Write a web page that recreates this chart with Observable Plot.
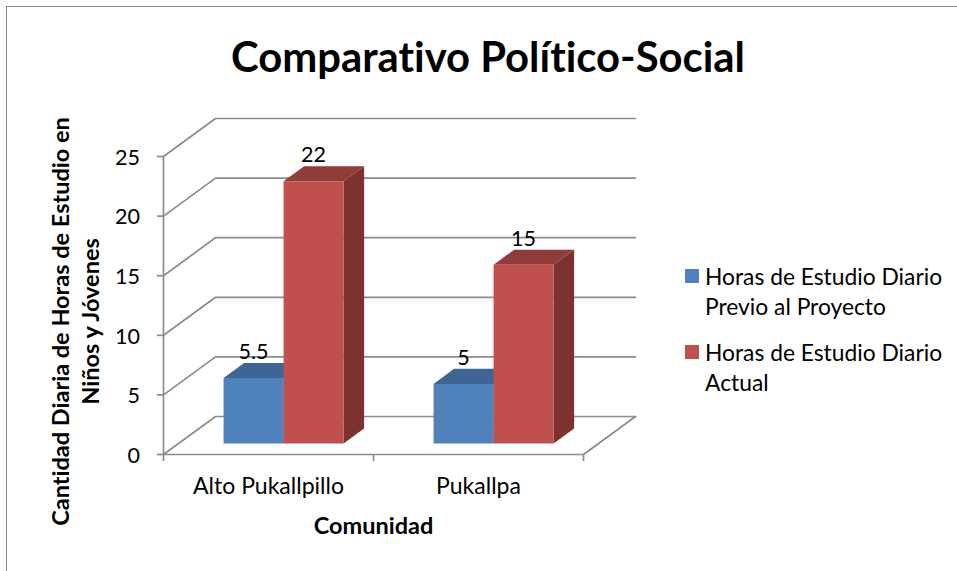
<!DOCTYPE html>
<html>
<head>
<meta charset="utf-8">
<script src="https://cdn.jsdelivr.net/npm/d3@7"></script>
<script src="https://cdn.jsdelivr.net/npm/@observablehq/plot@0.6"></script>
<style>
  html, body { margin: 0; padding: 0; background: #fff; overflow: hidden; width: 957px; height: 571px; }
  body { position: relative; font-family: Lato, sans-serif; color: #000; font-variant-ligatures: none; }
  svg, svg text { font-variant-ligatures: none; }
  #frame { position: absolute; left: 6px; top: 6px; width: 1200px; height: 900px; border: 1px solid #868686; box-sizing: border-box; }
  #chart { position: absolute; left: 0; top: 0; }
  #title { position: absolute; left: 0; width: 976px; top: 30px; text-align: center; font-weight: 700; font-size: 41.8px; line-height: 52px; white-space: nowrap; }
  .lg { position: absolute; left: 705px; font-size: 22.8px; line-height: 30px; white-space: nowrap; }
  .sw { position: absolute; left: 685px; width: 14px; height: 14px; }
</style>
</head>
<body>
<div id="frame"></div>
<div id="chart"></div>
<div id="title"></div>
<script>
const titleText = "Comparativo Político-Social";
const yLabelLine1 = "Cantidad Diaria de Horas de Estudio en";
const yLabelLine2 = "Niños y Jóvenes";
const xLabel = "Comunidad";
const categories = ["Alto Pukallpillo", "Pukallpa"];
const previo = [5.5, 5];
const actual = [22, 15];
const previoLabels = ["5.5", "5"];
const actualLabels = ["22", "15"];
const seriesNames = [["Horas de Estudio Diario", "Previo al Proyecto"], ["Horas de Estudio Diario", "Actual"]];
const yTicks = [0, 5, 10, 15, 20, 25];
const xTicks = [0, 1, 2];

// Oblique projection of the 3D box, in scale units per full depth of the plot floor
const DX = 52 / 210, DY = 38 / 11.92;
const proj = (x, v, d) => ({x: x + d * DX, y: v + d * DY});
const D0 = 0.29, D1 = 0.685, BAR = 2 / 7, GAP = 1.5 / 7;

const colors = [
  {front: "#4f81bd", top: "#3e6593", side: "#2f4d70"},
  {front: "#c0504d", top: "#8f3c3a", side: "#7d3230"}
];
const gridColor = "#8c8c8c", gridWidth = 1.7;

const face = (pts, fill) => Plot.line(pts.map(p => proj(...p)), {x: "x", y: "y", fill, stroke: "none", curve: "linear"});

function barMarks(values, s) {
  return values.flatMap((v, i) => {
    const x0 = i + GAP + s * BAR, x1 = x0 + BAR, c = colors[s];
    return [
      face([[x1, 0, D0], [x1, 0, D1], [x1, v, D1], [x1, v, D0]], c.side),
      face([[x0, v, D0], [x1, v, D0], [x1, v, D1], [x0, v, D1]], c.top),
      face([[x0, 0, D0], [x1, 0, D0], [x1, v, D0], [x0, v, D0]], c.front)
    ];
  });
}

const grid = yTicks.map(t => Plot.line([proj(0, t, 0), proj(0, t, 1), proj(2, t, 1)],
  {x: "x", y: "y", stroke: gridColor, strokeWidth: gridWidth}));

const labelData = (values, labels, s) => values.map((v, i) => {
  const p = proj(i + GAP + (s + 0.5) * BAR, v, D0);
  return {x: p.x, y: p.y, t: labels[i]};
});

const chart = Plot.plot({
  width: 957,
  height: 571,
  marginLeft: 163,
  marginRight: 374,
  marginTop: 156,
  marginBottom: 117,
  style: {background: "transparent", fontFamily: "Lato, sans-serif"},
  x: {domain: [0, 2], axis: null},
  y: {domain: [0, 25], axis: null},
  marks: [
    ...grid,
    Plot.line([proj(2, 0, 0), proj(2, 0, 1)], {x: "x", y: "y", stroke: gridColor, strokeWidth: gridWidth}),
    Plot.ruleX([0], {y1: 0, y2: 25, stroke: gridColor, strokeWidth: gridWidth}),
    Plot.ruleY([0], {x1: 0, x2: 2, stroke: gridColor, strokeWidth: gridWidth}),
    Plot.axisY({ticks: yTicks, tickSize: 6, tickFormat: () => "", stroke: gridColor, strokeWidth: gridWidth, label: null}),
    Plot.text(yTicks, {x: () => 0, y: d => d, text: d => String(d), textAnchor: "end", dx: -23.5, dy: 1.5, fontSize: 21.5, fill: "#000"}),
    Plot.axisX({ticks: xTicks, tickSize: 7, tickFormat: () => "", stroke: gridColor, strokeWidth: gridWidth, label: null}),
    ...barMarks(previo, 0),
    ...barMarks(actual, 1),
    Plot.text([...labelData(previo, previoLabels, 0), ...labelData(actual, actualLabels, 1)],
      {x: "x", y: "y", text: "t", dy: -26, fontSize: 21.5, fill: "#000"}),
    Plot.text(categories, {x: (d, i) => i + 0.5, y: () => 0, text: d => d, dy: 32, fontSize: 23, fill: "#000"}),
    Plot.text([xLabel], {x: () => 1, y: () => 0, text: d => d, dy: 72, fontSize: 23.5, fontWeight: 700, fill: "#000"}),
    Plot.text([yLabelLine1], {x: () => 0, y: () => 11.16, text: d => d, dx: -102, rotate: -90, fontSize: 23.5, fontWeight: 700, fill: "#000"}),
    Plot.text([yLabelLine2], {x: () => 0, y: () => 11.16, text: d => d, dx: -72, rotate: -90, fontSize: 23.5, fontWeight: 700, fill: "#000"})
  ]
});
document.getElementById("chart").append(chart);
document.getElementById("title").textContent = titleText;

// legend
const lgTop = [261, 337];
seriesNames.forEach((lines, s) => {
  const sw = document.createElement("div");
  sw.className = "sw";
  sw.style.top = (lgTop[s] + 8) + "px";
  sw.style.background = colors[s].front;
  document.body.append(sw);
  lines.forEach((t, j) => {
    const el = document.createElement("div");
    el.className = "lg";
    el.style.top = (lgTop[s] + j * 30) + "px";
    el.textContent = t;
    document.body.append(el);
  });
});
</script>
</body>
</html>
